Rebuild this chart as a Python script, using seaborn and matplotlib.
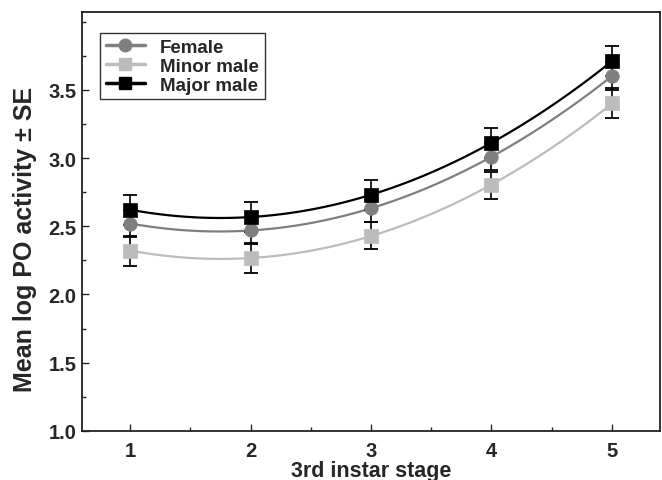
import numpy as np
import pandas as pd
import matplotlib
matplotlib.use("Agg")
import matplotlib.pyplot as plt
from matplotlib.ticker import MultipleLocator, FixedLocator, FormatStrFormatter
from matplotlib.lines import Line2D
import seaborn as sns

# data
stages = [1, 2, 3, 4, 5]
female = [2.52, 2.47, 2.63, 3.01, 3.60]
minor_male = [2.32, 2.27, 2.43, 2.80, 3.40]
major_male = [2.62, 2.57, 2.73, 3.11, 3.71]
female_se = [0.10, 0.10, 0.10, 0.10, 0.10]
minor_se = [0.11, 0.11, 0.10, 0.10, 0.11]
major_se = [0.11, 0.11, 0.11, 0.11, 0.11]
yticks = [1.0, 1.5, 2.0, 2.5, 3.0, 3.5]

groups = ["Female", "Minor male", "Major male"]
colors = {"Female": "#7f7f7f", "Minor male": "#bcbcbc", "Major male": "#000000"}
markers = {"Female": "o", "Minor male": "s", "Major male": "s"}

df = pd.concat([
    pd.DataFrame({"stage": stages, "po": female, "se": female_se, "group": "Female"}),
    pd.DataFrame({"stage": stages, "po": minor_male, "se": minor_se, "group": "Minor male"}),
    pd.DataFrame({"stage": stages, "po": major_male, "se": major_se, "group": "Major male"}),
])

sns.set_style("ticks")
plt.rcParams["font.family"] = ["Liberation Sans", "DejaVu Sans"]
plt.rcParams["font.weight"] = "bold"

fig = plt.figure(figsize=(6.62, 4.81), dpi=100)
ax = fig.add_axes([0.124, 0.102, 0.873, 0.871])

# quadratic fit curves
for g in groups:
    d = df[df["group"] == g]
    sns.regplot(data=d, x="stage", y="po", order=2, ci=None, scatter=False,
                color=colors[g], line_kws={"lw": 1.6, "zorder": 2}, ax=ax)

# error bars (black for every group)
for g in groups:
    d = df[df["group"] == g]
    ax.errorbar(d["stage"], d["po"], yerr=d["se"], fmt="none", ecolor="black",
                elinewidth=1.2, capsize=5, capthick=1.3, zorder=3)

# markers
for g in groups:
    d = df[df["group"] == g]
    sns.scatterplot(data=d, x="stage", y="po", marker=markers[g], s=95,
                    color=colors[g], edgecolor=colors[g], linewidth=0.5,
                    zorder=4, ax=ax, legend=False)

ax.set_xlim(0.6, 5.4)
ax.set_ylim(1.0, 4.07)
ax.xaxis.set_major_locator(MultipleLocator(1))
ax.xaxis.set_minor_locator(MultipleLocator(0.5))
ax.yaxis.set_major_locator(FixedLocator(yticks))
ax.yaxis.set_minor_locator(MultipleLocator(0.25))
ax.yaxis.set_major_formatter(FormatStrFormatter("%.1f"))
ax.tick_params(which="both", direction="in", top=False, right=False)
ax.tick_params(which="major", length=5, width=1, labelsize=14.5)
ax.tick_params(axis="x", which="major", pad=7)
ax.tick_params(axis="y", which="major", pad=4)
ax.tick_params(which="minor", length=3, width=1)
for lbl in ax.get_xticklabels() + ax.get_yticklabels():
    lbl.set_fontweight("bold")
for sp in ax.spines.values():
    sp.set_linewidth(1.3)
    sp.set_color("#222222")

ax.set_xlabel("3rd instar stage", fontsize=15.5, fontweight="bold", labelpad=0)
ax.set_ylabel("Mean log PO activity ± SE", fontsize=18, fontweight="bold")
ax.yaxis.set_label_coords(-0.078, 0.46)

handles = [Line2D([0], [0], color=colors[g], lw=2.5, marker=markers[g],
                  markersize=9, markerfacecolor=colors[g], markeredgecolor=colors[g])
           for g in groups]
leg = ax.legend(handles, groups, loc="upper left", bbox_to_anchor=(0.031, 0.95),
                borderaxespad=0, frameon=True, fancybox=False, handlelength=2.1,
                handletextpad=0.8, borderpad=0.3, labelspacing=0.1,
                prop={"weight": "bold", "size": 13.5})
leg.get_frame().set_edgecolor("#333333")
leg.get_frame().set_linewidth(1.0)
leg.get_frame().set_alpha(1)

fig.savefig("out.png", dpi=100)
